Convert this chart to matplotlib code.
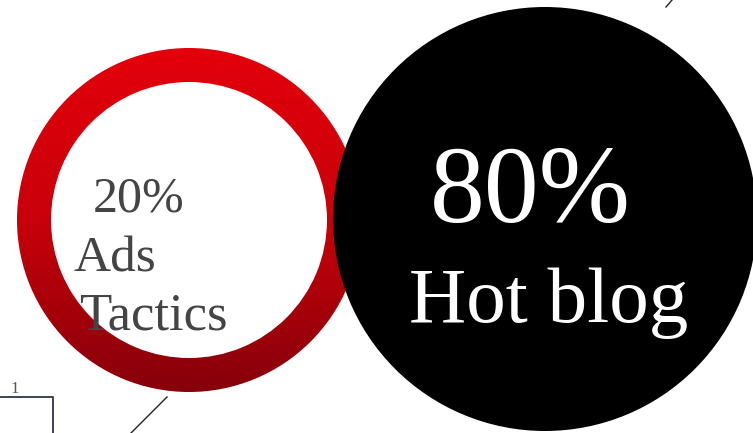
import matplotlib
matplotlib.use("Agg")
import matplotlib.pyplot as plt
import numpy as np
from matplotlib.patches import Wedge, Circle
from matplotlib.colors import LinearSegmentedColormap

# share of traffic by source
labels = ["Ads", "Tactics", "Hot blog"]
shares = [20, 80]

W, H = 753, 433
SERIF = ["Liberation Serif", "DejaVu Serif"]

fig = plt.figure(figsize=(W / 100, H / 100), dpi=100)
ax = fig.add_axes([0, 0, 1, 1])
ax.set_xlim(0, W)
ax.set_ylim(H, 0)
ax.axis("off")

# red ring with a top-to-bottom shade
ring_c, ring_r, ring_w = (189, 220), 172, 34
ring = Wedge(ring_c, ring_r, 0, 360, width=ring_w, facecolor="none", edgecolor="none")
ax.add_patch(ring)
shade = LinearSegmentedColormap.from_list("ring", ["#e3000b", "#c8000a", "#86000a"])
grad = np.linspace(0, 1, 256).reshape(-1, 1)
img = ax.imshow(grad, cmap=shade, origin="upper", aspect="auto",
                extent=(ring_c[0] - ring_r, ring_c[0] + ring_r,
                        ring_c[1] + ring_r, ring_c[1] - ring_r),
                interpolation="bilinear", zorder=1)
img.set_clip_path(ring)

# big black disc
ax.add_patch(Circle((545, 219), 212, facecolor="black", edgecolor="none", zorder=2))

ax.set_xlim(0, W)
ax.set_ylim(H, 0)

# labels in the ring
grey = "#444444"
ax.text(93, 212, f"{shares[0]}%", family=SERIF, fontsize=36, color=grey,
        ha="left", va="baseline", zorder=3)
ax.text(74, 272, labels[0], family=SERIF, fontsize=37, color=grey,
        ha="left", va="baseline", zorder=3)
ax.text(79, 330, labels[1], family=SERIF, fontsize=38, color=grey,
        ha="left", va="baseline", zorder=3)

# labels in the disc
ax.text(530, 222, f"{shares[1]}%", family=SERIF, fontsize=79, color="white",
        ha="center", va="baseline", zorder=3)
ax.text(549, 322, labels[2], family=SERIF, fontsize=57, color="white",
        ha="center", va="baseline", zorder=3)

# stray strokes around the edges
ax.plot([0, 53, 53], [397, 397, H], color="#33334a", lw=1.3, zorder=3)
ax.plot([167, 131], [397, H], color="#222222", lw=1.0, zorder=3)
ax.plot([666, 672], [7, 0], color="#222222", lw=1.0, zorder=3)
ax.text(15, 393, "1", family=SERIF, fontsize=12, color="#555555",
        ha="center", va="baseline", zorder=3)

fig.savefig("out.png", dpi=100, facecolor="white")
